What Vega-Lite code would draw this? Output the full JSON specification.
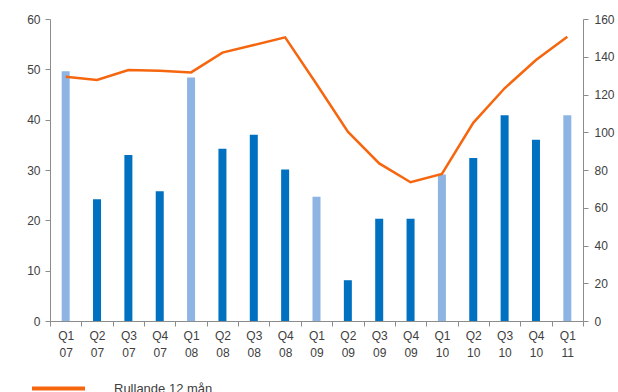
{
  "$schema": "https://vega.github.io/schema/vega-lite/v6.json",
  "autosize": "none",
  "width": 533,
  "height": 302,
  "padding": {"left": 50, "top": 19, "right": 35, "bottom": 71},
  "background": "white",
  "config": {
    "view": {"stroke": null},
    "font": "Liberation Sans",
    "axis": {
      "labelFont": "Liberation Sans",
      "labelFontSize": 12,
      "labelColor": "#404040",
      "domainColor": "#8c8c8c",
      "tickColor": "#8c8c8c",
      "grid": false,
      "title": null
    }
  },
  "data": {
    "values": [
      {"period": "Q1 07", "q": "Q1", "kvartal": 49.6, "rullande": 129.4},
      {"period": "Q2 07", "q": "Q2", "kvartal": 24.2, "rullande": 127.7},
      {"period": "Q3 07", "q": "Q3", "kvartal": 33.0, "rullande": 133.0},
      {"period": "Q4 07", "q": "Q4", "kvartal": 25.8, "rullande": 132.6},
      {"period": "Q1 08", "q": "Q1", "kvartal": 48.4, "rullande": 131.7},
      {"period": "Q2 08", "q": "Q2", "kvartal": 34.2, "rullande": 142.2},
      {"period": "Q3 08", "q": "Q3", "kvartal": 37.0, "rullande": 146.2},
      {"period": "Q4 08", "q": "Q4", "kvartal": 30.1, "rullande": 150.3},
      {"period": "Q1 09", "q": "Q1", "kvartal": 24.7, "rullande": 125.6},
      {"period": "Q2 09", "q": "Q2", "kvartal": 8.1, "rullande": 100.3},
      {"period": "Q3 09", "q": "Q3", "kvartal": 20.3, "rullande": 83.5},
      {"period": "Q4 09", "q": "Q4", "kvartal": 20.3, "rullande": 73.5},
      {"period": "Q1 10", "q": "Q1", "kvartal": 29.1, "rullande": 77.9},
      {"period": "Q2 10", "q": "Q2", "kvartal": 32.4, "rullande": 105.0},
      {"period": "Q3 10", "q": "Q3", "kvartal": 40.9, "rullande": 123.3},
      {"period": "Q4 10", "q": "Q4", "kvartal": 36.0, "rullande": 138.3},
      {"period": "Q1 11", "q": "Q1", "kvartal": 40.9, "rullande": 150.6}
    ]
  },
  "encoding": {
    "x": {
      "field": "period",
      "type": "ordinal",
      "sort": null,
      "scale": {"paddingInner": 0, "paddingOuter": 0},
      "axis": {
        "labelAngle": 0,
        "labelExpr": "split(datum.label, ' ')",
        "labelLineHeight": 17,
        "labelPadding": 4,
        "tickBand": "extent",
        "tickSize": 5
      }
    }
  },
  "layer": [
    {
      "mark": {"type": "bar", "width": 8},
      "encoding": {
        "y": {
          "field": "kvartal",
          "type": "quantitative",
          "scale": {"domain": [0, 60]},
          "axis": {"values": [0, 10, 20, 30, 40, 50, 60], "tickSize": 5, "labelPadding": 5}
        },
        "color": {
          "condition": {"test": "datum.q === 'Q1'", "value": "#8db4e2"},
          "value": "#0070c0"
        }
      }
    },
    {
      "mark": {"type": "line", "strokeWidth": 2.5},
      "encoding": {
        "y": {
          "field": "rullande",
          "type": "quantitative",
          "scale": {"domain": [0, 160]},
          "axis": {"orient": "right", "values": [0, 20, 40, 60, 80, 100, 120, 140, 160], "tickSize": 5, "labelPadding": 6}
        },
        "color": {
          "datum": "Rullande 12 mån",
          "type": "nominal",
          "scale": {"range": ["#f5660f"]},
          "legend": {
            "title": null,
            "orient": "none",
            "legendX": -20,
            "legendY": 341,
            "symbolType": "stroke",
            "symbolSize": 2809,
            "symbolStrokeWidth": 4,
            "labelFont": "Liberation Sans",
            "labelFontSize": 13,
            "labelColor": "#404040",
            "labelOffset": 27
          }
        }
      }
    }
  ],
  "resolve": {"scale": {"y": "independent"}}
}
